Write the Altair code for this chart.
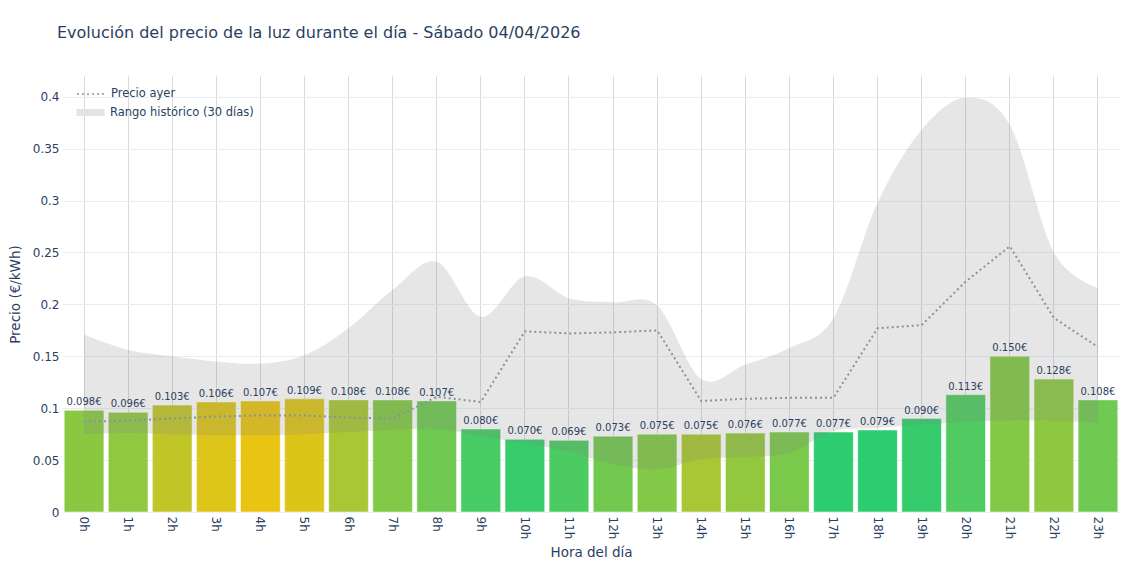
import altair as alt
import pandas as pd

# Datos (€/kWh por hora)
horas = [f"{h}h" for h in range(24)]
precio_hoy = [0.098, 0.096, 0.103, 0.106, 0.107, 0.109, 0.108, 0.108, 0.107, 0.080, 0.070, 0.069,
              0.073, 0.075, 0.075, 0.076, 0.077, 0.077, 0.079, 0.090, 0.113, 0.150, 0.128, 0.108]
precio_ayer = [0.087, 0.088, 0.090, 0.092, 0.093, 0.093, 0.091, 0.090, 0.111, 0.106, 0.174, 0.172,
               0.173, 0.175, 0.107, 0.109, 0.110, 0.110, 0.177, 0.180, 0.222, 0.256, 0.187, 0.159]
rango_min = [0.075, 0.076, 0.075, 0.074, 0.074, 0.075, 0.077, 0.079, 0.080, 0.073, 0.066, 0.058,
             0.046, 0.041, 0.051, 0.053, 0.057, 0.078, 0.081, 0.084, 0.087, 0.088, 0.088, 0.086]
rango_max = [0.171, 0.156, 0.150, 0.145, 0.143, 0.151, 0.177, 0.214, 0.241, 0.188, 0.227, 0.206,
             0.202, 0.199, 0.128, 0.142, 0.158, 0.187, 0.298, 0.368, 0.399, 0.373, 0.250, 0.216]

df = pd.DataFrame({
    'hora': horas,
    'precio': precio_hoy,
    'ayer': precio_ayer,
    'minimo': rango_min,
    'maximo': rango_max,
})
# Posición del precio dentro del rango histórico -> color de la barra
df['posicion'] = ((df['precio'] - df['minimo']) / (df['maximo'] - df['minimo'])).clip(0, 1)
df['etiqueta'] = df['precio'].map(lambda v: f"{v:.3f}€")
df['serie'] = 'Precio ayer'
df['rango'] = 'Rango histórico (30 días)'

FONT = 'DejaVu Sans'
TEXT = '#2a3f5f'
Y_TITLE = 'Precio (€/kWh)'
X_TITLE = 'Hora del día'

y_scale = alt.Scale(domain=[0, 0.42], nice=False)

bars = alt.Chart(df).mark_bar(opacity=1, stroke='white', strokeWidth=1, strokeOpacity=0.5).encode(
    x=alt.X('hora:N', sort=horas, title=X_TITLE,
            scale=alt.Scale(paddingInner=0.1, paddingOuter=0.05),
            axis=alt.Axis(labelAngle=90, bandPosition=0.5, grid=True, gridColor='#d9d9d9',
                          ticks=False, domain=False, labelPadding=4,
                          titleY=40, titleBaseline='middle')),
    y=alt.Y('precio:Q', scale=y_scale, title=Y_TITLE,
            axis=alt.Axis(values=[0, 0.05, 0.1, 0.15, 0.2, 0.25, 0.3, 0.35, 0.4], format='~g',
                          gridColor='#e8edf5', ticks=False, domain=False, labelPadding=3,
                          titleX=-47, titleBaseline='middle')),
    color=alt.Color('posicion:Q', legend=None,
                    scale=alt.Scale(domain=[0, 0.5, 1], range=['#2ecc71', '#f1c40f', '#e74c3c'],
                                    interpolate='rgb')),
)

area = alt.Chart(df).mark_area(interpolate='cardinal', fillOpacity=0.2).encode(
    x=alt.X('hora:N', sort=horas, bandPosition=0.5, title=X_TITLE),
    y=alt.Y('minimo:Q', scale=y_scale, title=Y_TITLE),
    y2='maximo:Q',
    fill=alt.Fill('rango:N', scale=alt.Scale(domain=['Rango histórico (30 días)'], range=['#808080']),
                  legend=alt.Legend(title=None, orient='none', legendX=11, legendY=19, padding=0,
                                    symbolType='stroke', symbolStrokeColor='#e3e3e3',
                                    symbolStrokeWidth=7, symbolSize=784, symbolOpacity=1,
                                    labelOffset=2)),
)

line = alt.Chart(df).mark_line(color='#8494a0', strokeWidth=2).encode(
    x=alt.X('hora:N', sort=horas, bandPosition=0.5, title=X_TITLE),
    y=alt.Y('ayer:Q', scale=y_scale, title=Y_TITLE),
    strokeDash=alt.StrokeDash('serie:N', scale=alt.Scale(domain=['Precio ayer'], range=[[2, 3]]),
                              legend=alt.Legend(title=None, orient='none', legendX=14, legendY=3,
                                                padding=0, symbolType='stroke',
                                                symbolStrokeColor='#8494a0', symbolStrokeWidth=1.5,
                                                symbolSize=784, labelOffset=5)),
)

text = alt.Chart(df).mark_text(baseline='bottom', dy=-3, fontSize=10, font=FONT, color=TEXT).encode(
    x=alt.X('hora:N', sort=horas, bandPosition=0.5, title=X_TITLE),
    y=alt.Y('precio:Q', scale=y_scale, title=Y_TITLE),
    text='etiqueta:N',
)

chart = alt.layer(bars, area, line, text).properties(
    width=1058,
    height=436,
    autosize=alt.AutoSizeParams(type='none'),
    padding={'left': 54, 'top': 68, 'right': 12, 'bottom': 50},
    title=alt.TitleParams('Evolución del precio de la luz durante el día - Sábado 04/04/2026',
                          anchor='start', frame='group', dx=-5, offset=35, fontSize=16, font=FONT,
                          fontWeight='normal', color=TEXT),
).configure_view(
    stroke=None
).configure_axis(
    labelFont=FONT, labelFontSize=12, labelColor=TEXT,
    titleFont=FONT, titleFontSize=13.5, titleColor=TEXT, titleFontWeight='normal'
).configure_legend(
    labelFont=FONT, labelFontSize=11.5, labelColor=TEXT
)

chart.save("out.html", embed_options={"renderer": "svg", "actions": False})
